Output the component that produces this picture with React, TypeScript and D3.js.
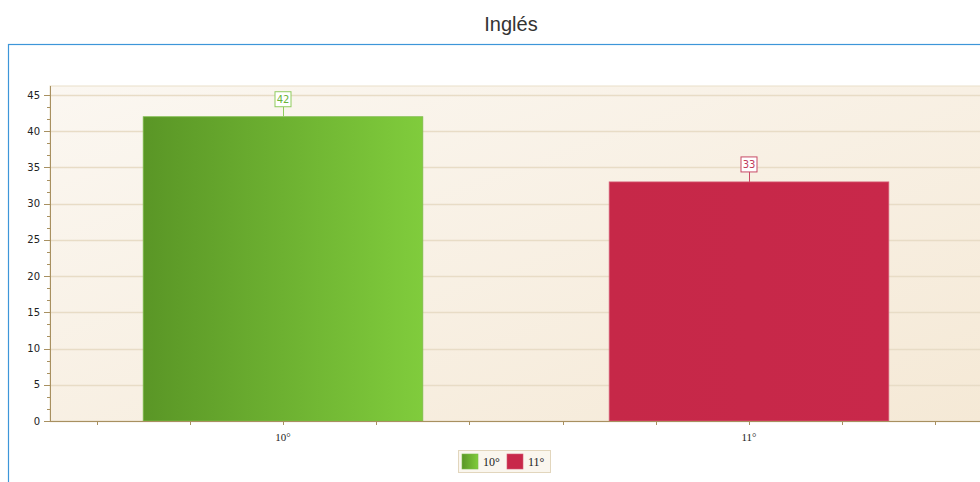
import React from "react";
import * as d3 from "d3";

const categories = ["10°", "11°"];
const values = [42, 33];
const colors = ["#6db232", "#c8284a"];
const yTicks = [0, 5, 10, 15, 20, 25, 30, 35, 40, 45];
const title = "Inglés";

export default function App() {
  const W = 980, H = 482;
  const left = 50, top = 86, bottom = 421, right = 982;
  const x = d3.scaleBand<string>().domain(categories).range([left, right]);
  const y = d3.scaleLinear().domain([0, 45]).range([bottom, 95]);
  const bw = x.bandwidth();
  const barW = bw * 0.6;
  const minorY: number[] = [];
  for (let v = 0; v <= 46; v += 5 / 3) minorY.push(v);
  const minorX: number[] = [];
  for (let k = 0; k < 10; k++) minorX.push(left + bw / 10 + (bw / 5) * k);
  return (
    <svg width={W} height={H} style={{ position: "absolute", left: 0, top: 0 }}>
      <defs>
        <linearGradient id="bg" x1="0" y1="0" x2="1" y2="1">
          <stop offset="0" stopColor="#fbf7f1" />
          <stop offset="1" stopColor="#f5e9d6" />
        </linearGradient>
        <linearGradient id="g0" x1="0" y1="0" x2="1" y2="0">
          <stop offset="0" stopColor="#5a9626" />
          <stop offset="1" stopColor="#80cc3c" />
        </linearGradient>
        <linearGradient id="g1" x1="0" y1="0" x2="1" y2="0">
          <stop offset="0" stopColor="#c62848" />
          <stop offset="1" stopColor="#c8284a" />
        </linearGradient>
      </defs>
      <rect x={0} y={0} width={W} height={H} fill="#fff" />
      <text x={511} y={31} textAnchor="middle" fontFamily="Liberation Sans, Arial, sans-serif" fontSize={20} fill="#333">{title}</text>
      <rect x={8.5} y={44.5} width={W} height={H} fill="none" stroke="#3d96d9" strokeWidth={1.2} />
      <rect x={left} y={top} width={right - left} height={bottom - top} fill="url(#bg)" stroke="#eadfca" />
      {yTicks.map((t) => (
        <line key={"g" + t} x1={left} x2={right} y1={Math.round(y(t)) + 0.5} y2={Math.round(y(t)) + 0.5} stroke="#e8dcc6" strokeWidth={1.5} />
      ))}
      {categories.map((c, i) => {
        const cx = x(c)! + bw / 2;
        const yt = y(values[i]);
        const lc = i === 0 ? "#8fcc5e" : "#c84a66";
        const tc = i === 0 ? "#6ab43a" : "#c03a5a";
        return (
          <g key={c}>
            <rect x={cx - barW / 2} y={yt} width={barW} height={bottom - yt} fill={`url(#g${i})`} stroke={i === 0 ? "#7dbb4a" : "#d45a74"} strokeWidth={0.8} />
            <line x1={cx + 0.5} x2={cx + 0.5} y1={yt} y2={yt - 10} stroke={lc} />
            <rect x={cx - 8} y={yt - 25} width={16} height={15} fill="#fff" stroke={lc} />
            <text x={cx} y={yt - 13.5} textAnchor="middle" fontFamily="DejaVu Sans, sans-serif" fontSize={10} fill={tc}>{values[i]}</text>
          </g>
        );
      })}
      <line x1={left + 0.5} x2={left + 0.5} y1={top} y2={bottom} stroke="#a89060" />
      <line x1={left} x2={right} y1={bottom + 0.5} y2={bottom + 0.5} stroke="#a89060" strokeWidth={1.2} />
      {minorY.map((v, i) => (
        <line key={"my" + i} x1={left - 3} x2={left} y1={Math.round(y(v)) + 0.5} y2={Math.round(y(v)) + 0.5} stroke="#a89060" />
      ))}
      {yTicks.map((t) => (
        <g key={"t" + t}>
          <line x1={left - 6} x2={left} y1={Math.round(y(t)) + 0.5} y2={Math.round(y(t)) + 0.5} stroke="#a89060" />
          <text x={left - 10} y={y(t) + 3.5} textAnchor="end" fontFamily="DejaVu Sans, sans-serif" fontSize={10} fill="#222">{t}</text>
        </g>
      ))}
      {minorX.map((mx, i) => (
        <line key={"mx" + i} x1={Math.round(mx) + 0.5} x2={Math.round(mx) + 0.5} y1={bottom} y2={bottom + 4} stroke="#a89060" />
      ))}
      {categories.map((c) => (
        <text key={"xl" + c} x={x(c)! + bw / 2} y={441} textAnchor="middle" fontFamily="Liberation Serif, serif" fontSize={11} fill="#222">{c}</text>
      ))}
      <rect x={458.5} y={450.5} width={92} height={22} fill="#faf6ee" stroke="#e2d6bd" />
      {categories.map((c, i) => (
        <g key={"lg" + c} transform={`translate(${462 + i * 45},454)`}>
          <rect x={0} y={0} width={16} height={15} fill={i === 0 ? "url(#g0)" : colors[1]} stroke={i === 0 ? "#7dbb4a" : "#d45a74"} strokeWidth={0.6} />
          <text x={21} y={12} fontFamily="Liberation Serif, serif" fontSize={12} fill="#222">{c}</text>
        </g>
      ))}
    </svg>
  );
}
